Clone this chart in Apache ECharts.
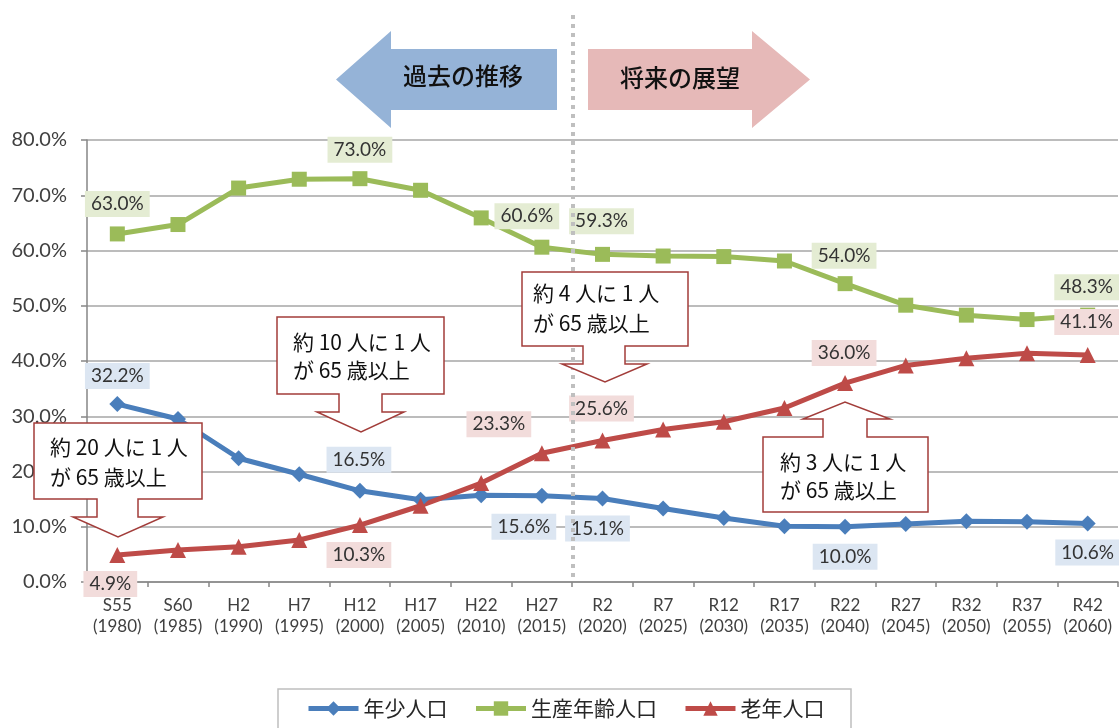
<!DOCTYPE html>
<html>
<head>
<meta charset="utf-8">
<title>年齢3区分別人口割合の推移</title>
<script src="https://cdn.jsdelivr.net/npm/echarts@6/dist/echarts.min.js"></script>
<style>
html,body{margin:0;padding:0;background:#fff;}
#main{width:1119px;height:728px;}
</style>
</head>
<body>
<div id="main"></div>
<script>
var categories = ['S55\n(1980)','S60\n(1985)','H2\n(1990)','H7\n(1995)','H12\n(2000)','H17\n(2005)','H22\n(2010)','H27\n(2015)',
	'R2\n(2020)','R7\n(2025)','R12\n(2030)','R17\n(2035)','R22\n(2040)','R27\n(2045)','R32\n(2050)','R37\n(2055)','R42\n(2060)'];
var seriesNames = ['年少人口','生産年齢人口','老年人口'];
var youngData = [32.2, 29.5, 22.4, 19.5, 16.5, 14.9, 15.7, 15.6, 15.1, 13.3, 11.6, 10.1, 10.0, 10.5, 11.0, 10.9, 10.6];
var workData  = [63.0, 64.7, 71.3, 72.9, 73.0, 70.9, 65.9, 60.6, 59.3, 59.0, 58.9, 58.1, 54.0, 50.1, 48.3, 47.5, 48.3];
var oldData   = [4.9, 5.8, 6.4, 7.6, 10.3, 13.8, 17.9, 23.3, 25.6, 27.6, 29.0, 31.5, 36.0, 39.2, 40.5, 41.4, 41.1];

//ラベル位置 (index: [dx, dy])
var youngLabelPos = {0:[0,-28], 4:[-1,-31], 7:[-18,31], 8:[-5,30], 12:[0,30], 16:[0,29]};
var workLabelPos  = {0:[0,-30], 4:[0,-29], 7:[-15,-31], 8:[-1,-33], 12:[-1,-28], 16:[-1,-28]};
var oldLabelPos   = {0:[-7,29], 4:[-1,30], 7:[-43,-29], 8:[-1,-32], 12:[-1,-30], 16:[-1,-33]};

var labelFont = 'Lato, "Liberation Sans", sans-serif';
var jpFont = '"Noto Sans CJK JP", sans-serif';

function buildData(values, pos, bg){
	var arr = [];
	for(var i=0;i<values.length;i++){
		if(pos[i]){
			arr.push({value: values[i], label: {show: true, offset: pos[i], backgroundColor: bg}});
		}else{
			arr.push(values[i]);
		}
	}
	return arr;
}

function makeSeries(name, values, pos, color, bg, symbol, size){
	return {
		name: name,
		type: 'line',
		data: buildData(values, pos, bg),
		symbol: symbol,
		symbolSize: size,
		lineStyle: {width: 5, color: color},
		itemStyle: {color: color},
		label: {
			show: false,
			position: 'inside',
			formatter: function(p){ return p.value.toFixed(1) + '%'; },
			fontSize: 19,
			fontFamily: labelFont,
			color: '#333',
			padding: [4, 6, 3, 6]
		},
		emphasis: {disabled: true}
	};
}

function textEl(x, y, text, size, lh){
	return {type: 'text', x: x, y: y, z: 101,
		style: {text: text, font: size + 'px ' + jpFont, fill: '#111', lineHeight: lh,
			textAlign: 'left', textVerticalAlign: 'top'}};
}
function calloutEl(points){
	return {type: 'polygon', z: 100, shape: {points: points},
		style: {fill: '#fff', stroke: '#a23d3a', lineWidth: 1.5}};
}

var charts = echarts.init(document.getElementById('main'));
var option = {
	animation: false,
	grid: {left: 87, right: 1, top: 140, bottom: 146},
	legend: {
		data: seriesNames,
		left: 306,
		top: 698,
		padding: 0,
		itemWidth: 50,
		itemHeight: 18,
		itemGap: 26,
		lineStyle: {width: 5},
		textStyle: {fontSize: 21, fontFamily: jpFont, color: '#262626'}
	},
	xAxis: {
		type: 'category',
		data: categories,
		boundaryGap: true,
		axisLine: {lineStyle: {color: '#868686', width: 1.5}},
		axisTick: {show: true, length: 5, lineStyle: {color: '#868686', width: 1.5}},
		axisLabel: {interval: 0, fontSize: 17, fontFamily: labelFont, color: '#404040', lineHeight: 21, margin: 13}
	},
	yAxis: {
		type: 'value',
		min: 0,
		max: 80,
		interval: 10,
		axisLine: {show: true, lineStyle: {color: '#868686', width: 1.5}},
		axisTick: {show: true, length: 6, lineStyle: {color: '#868686', width: 1.5}},
		axisLabel: {formatter: function(v){ return v.toFixed(1) + '%'; }, fontSize: 20, fontFamily: labelFont, color: '#404040', margin: 20},
		splitLine: {lineStyle: {color: '#a6a6a6', width: 1.5}}
	},
	series: [
		makeSeries(seriesNames[0], youngData, youngLabelPos, '#4a7ebb', '#dce6f2', 'diamond', 16),
		makeSeries(seriesNames[1], workData, workLabelPos, '#9bbb59', '#e4ecd3', 'rect', 15),
		makeSeries(seriesNames[2], oldData, oldLabelPos, '#be4b48', '#f2dcdb', 'triangle', 16)
	],
	graphic: [
		//過去と将来の境界
		{type: 'line', z: 50, shape: {x1: 573, y1: 15, x2: 573, y2: 581},
			style: {stroke: '#bfbfbf', lineWidth: 4, lineDash: [4, 5]}},
		{type: 'polygon', z: 60, shape: {points: [[336,79.5],[391,31],[391,49],[557,49],[557,110],[391,110],[391,128]]},
			style: {fill: '#95b3d7'}},
		{type: 'polygon', z: 60, shape: {points: [[588,49],[752,49],[752,31],[810,79.5],[752,128],[752,110],[588,110]]},
			style: {fill: '#e6b9b8'}},
		{type: 'text', x: 463, y: 76, z: 61, style: {text: '過去の推移', font: '500 24px ' + jpFont, fill: '#111', textAlign: 'center', textVerticalAlign: 'middle'}},
		{type: 'text', x: 680, y: 78, z: 61, style: {text: '将来の展望', font: '500 24px ' + jpFont, fill: '#111', textAlign: 'center', textVerticalAlign: 'middle'}},
		//吹き出し
		calloutEl([[34,423],[202,423],[202,499],[138,499],[138,517],[163,517],[118,537],[73,517],[97,517],[97,499],[34,499]]),
		textEl(50, 432, '約 20 人に 1 人\nが 65 歳以上', 21, 30),
		calloutEl([[277,317],[444,317],[444,394],[382,394],[382,412],[404,412],[361,432],[317,412],[339,412],[339,394],[277,394]]),
		textEl(293, 328, '約 10 人に 1 人\nが 65 歳以上', 21, 28),
		calloutEl([[522,272],[688,272],[688,346],[625,346],[625,364],[647,364],[605,382],[562,364],[583,364],[583,346],[522,346]]),
		textEl(533, 278, '約 4 人に 1 人\nが 65 歳以上', 21, 30),
		calloutEl([[763,437],[823,437],[823,419],[803,419],[845,402],[890,419],[867,419],[867,437],[928,437],[928,512],[763,512]]),
		textEl(780, 448, '約 3 人に 1 人\nが 65 歳以上', 21, 28),
		//凡例の枠
		{type: 'rect', z: 1, shape: {x: 278, y: 689, width: 573, height: 60},
			style: {fill: 'none', stroke: '#bfbfbf', lineWidth: 1.5}}
	]
};
charts.setOption(option);
</script>
</body>
</html>
